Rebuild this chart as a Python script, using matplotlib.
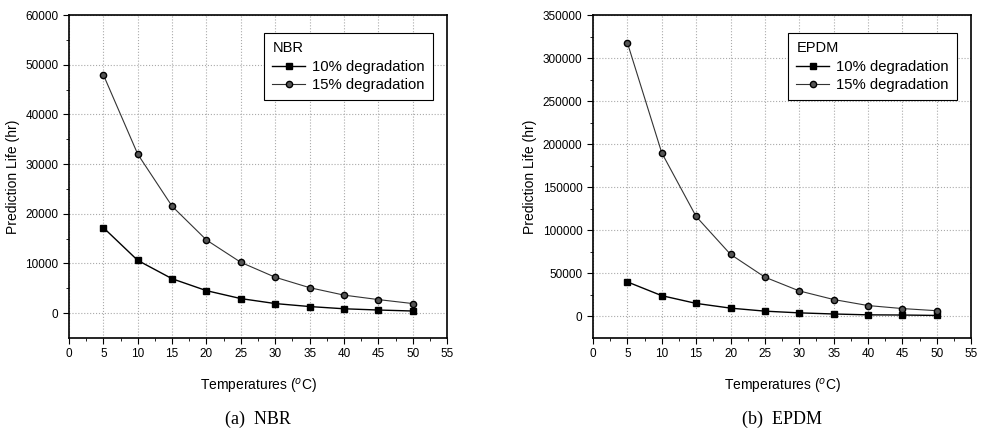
import numpy as np
import matplotlib.pyplot as plt

plt.rcParams['font.family'] = ['Liberation Sans', 'DejaVu Sans']

temps = [5, 10, 15, 20, 25, 30, 35, 40, 45, 50]

nbr_10 = [17200, 10600, 6900, 4500, 2900, 1900, 1300, 850, 600, 400]
nbr_15 = [48000, 32000, 21500, 14700, 10200, 7200, 5100, 3600, 2700, 1900]

epdm_10 = [40000, 24000, 15000, 9500, 6000, 4000, 2700, 1700, 1500, 1000]
epdm_15 = [318000, 190000, 116000, 72000, 45500, 29500, 19500, 12500, 9000, 6500]

panels = [
    ("NBR", "(a)  NBR", nbr_10, nbr_15, (-5000, 60000), 10000),
    ("EPDM", "(b)  EPDM", epdm_10, epdm_15, (-25000, 350000), 50000),
]

fig = plt.figure(figsize=(9.85, 4.32), dpi=100)
lefts = [0.070, 0.602]

for left, (name, caption, s10, s15, ylim, ystep) in zip(lefts, panels):
    ax = fig.add_axes([left, 0.218, 0.384, 0.747])
    ax.plot(temps, s10, color='black', lw=1.0, marker='s', ms=4.5,
            label='10% degradation')
    ax.plot(temps, s15, color='#333333', lw=0.8, marker='o', ms=4.5,
            mfc='#555555', mec='black', label='15% degradation')
    ax.set_xlim(0, 55)
    ax.set_ylim(*ylim)
    ax.set_xticks(np.arange(0, 56, 5))
    ax.set_xticks(np.arange(2.5, 55, 5), minor=True)
    ax.set_yticks(np.arange(0, ylim[1] + 1, ystep))
    ax.set_yticks(np.arange(ystep / 2, ylim[1], ystep), minor=True)
    ax.grid(True, which='major', color='#aaaaaa', linestyle=':', lw=0.8)
    ax.tick_params(which='both', direction='out', labelsize=8.5,
                   top=False, right=False)
    ax.tick_params(which='major', length=4)
    ax.tick_params(which='minor', length=2.5)
    for sp in ax.spines.values():
        sp.set_linewidth(1.2)
    ax.set_xlabel('Temperatures ($^{o}$C)', fontsize=10, labelpad=12)
    ax.set_ylabel('Prediction Life (hr)', fontsize=10)
    leg = ax.legend(title=name, loc='upper right', bbox_to_anchor=(0.963, 0.944),
                    borderaxespad=0, fontsize=10.7, title_fontsize=10.5,
                    fancybox=False, edgecolor='black', framealpha=1,
                    handlelength=2.2, borderpad=0.55, labelspacing=0.3,
                    handletextpad=0.5)
    leg._legend_box.align = 'left'
    leg.get_frame().set_linewidth(0.8)
    fig.text(left + 0.192, 0.03, caption, ha='center', va='center',
             fontsize=13, family='Liberation Serif')

fig.savefig('out.png', dpi=100)
